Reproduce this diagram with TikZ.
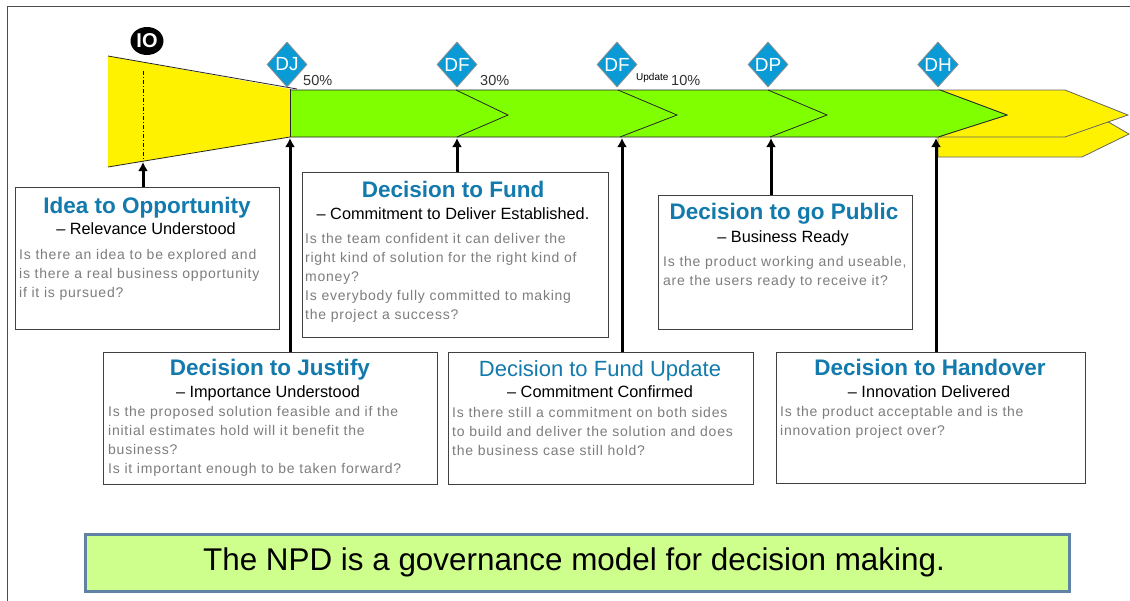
\documentclass[tikz,border=0pt]{standalone}
\usepackage{fontspec}
\setmainfont{Liberation Sans}
\newfontfamily\bodyfont{Liberation Sans}[LetterSpace=5.5]
\usetikzlibrary{shapes.geometric,arrows.meta}
\definecolor{titleblue}{RGB}{18,122,172}
\definecolor{dmblue}{RGB}{10,155,215}
\definecolor{barGreen}{RGB}{128,255,0}
\definecolor{bannerfill}{RGB}{206,255,140}
\definecolor{bannerline}{RGB}{96,130,165}
\definecolor{bodygrey}{RGB}{125,125,125}
\tikzset{
  box/.style={draw=black!75, line width=1pt, fill=white, anchor=north west, inner sep=0pt},
  ttl/.style={anchor=base, inner sep=0pt, text=titleblue, font=\fontsize{22.5}{24}\selectfont\bfseries},
  ttlreg/.style={anchor=base, inner sep=0pt, text=titleblue, font=\fontsize{22}{24}\selectfont},
  sub/.style={anchor=base, inner sep=0pt, text=black, font=\fontsize{16.3}{19}\selectfont},
  body/.style={anchor=base west, inner sep=0pt, align=left, text=bodygrey, font=\bodyfont\fontsize{14}{19}\selectfont},
  gate/.style={shape=diamond, draw=black!45, line width=0.8pt, fill=dmblue, inner sep=0pt,
    minimum width=40pt, minimum height=45pt, text=white, font=\fontsize{19}{20}\selectfont},
  pct/.style={anchor=base west, inner sep=0pt, text=black!80, font=\fontsize{14.5}{16}\selectfont},
  arr/.style={line width=3pt, -{Latex[length=9pt,width=10pt]}},
  barline/.style={draw=black!85, line width=0.8pt}
}
\begin{document}
\begin{tikzpicture}[x=1pt,y=-1pt]
\useasboundingbox (0,0) rectangle (1130,600);
\fill[white] (0,0) rectangle (1130,600);
% outer frame
\draw[black!70, line width=1pt] (7,610) -- (7,6) -- (1140,6);

% lower yellow arrow
\filldraw[fill=yellow, draw=black!60, line width=0.8pt]
  (938,137) -- (938,157) -- (1082,157) -- (1129,134) -- (1105,120) -- (1020,125) -- cycle;
% upper yellow arrow
\filldraw[fill=yellow, draw=black!60, line width=0.8pt]
  (940,90) -- (1065,90) -- (1128,115) -- (1065,137) -- (938,137) -- (1007,115) -- cycle;
% green bar
\filldraw[fill=barGreen, barline]
  (290,90) -- (940,90) -- (1007,115) -- (938,137) -- (290,137) -- cycle;
\draw[barline] (456,90) -- (508,115) -- (457,137);
\draw[barline] (618,90) -- (677,115) -- (620,137);
\draw[barline] (768,90) -- (827,115) -- (770,137);
% funnel
\fill[yellow] (108,56) -- (290,89) -- (290,137) -- (108,167) -- cycle;
\draw[black!85, line width=0.8pt] (108,56) -- (297,89);
\draw[black!85, line width=0.8pt] (108,167) -- (290,137);
\draw[black!85, line width=0.8pt] (290,89) -- (290,137);
\draw[black, line width=0.6pt, dash pattern=on 4pt off 2pt on 1pt off 2pt] (143,71) -- (143,161);

% IO marker
\node[ellipse, fill=black, minimum width=33pt, minimum height=28pt, inner sep=0pt,
  text=white, font=\fontsize{20}{20}\selectfont\bfseries] (io) at (147,41) {IO};

% gates
\node[gate] (gDJ) at (287,64.5) {DJ};
\node[gate] (gDF) at (457,64.5) {DF};
\node[gate] (gDFU) at (617,64.5) {DF};
\node[gate] (gDP) at (768,64.5) {DP};
\node[gate] (gDH) at (938,64.5) {DH};

\node[pct] (p50) at (303,85) {50\%};
\node[pct] (p30) at (480,85) {30\%};
\node[anchor=base west, inner sep=0pt, font=\fontsize{10}{11}\selectfont] (pup) at (636,80) {Update};
\node[pct] (p10) at (671,85) {10\%};

% attachment points on the bar
\coordinate (aIO) at (143,162);
\coordinate (aDJ) at (290,138);
\coordinate (aDF) at (457,138);
\coordinate (aDFU) at (622,138);
\coordinate (aDP) at (771,138);
\coordinate (aDH) at (936,138);

% boxes
\node[box, minimum width=264pt, minimum height=142pt] (bIO) at (15,187) {};
\node[box, minimum width=306pt, minimum height=165pt] (bDF) at (302,172) {};
\node[box, minimum width=254pt, minimum height=134pt] (bDP) at (658,195) {};
\node[box, minimum width=334pt, minimum height=132pt] (bDJ) at (103,352) {};
\node[box, minimum width=305pt, minimum height=132pt] (bDFU) at (448,352) {};
\node[box, minimum width=309pt, minimum height=131pt] (bDH) at (776,352) {};

% arrows
\draw[arr] (aIO |- bIO.north) -- (aIO);
\draw[arr] (aDJ |- bDJ.north) -- (aDJ);
\draw[arr] (aDF |- bDF.north) -- (aDF);
\draw[arr] (aDFU |- bDFU.north) -- (aDFU);
\draw[arr] (aDP |- bDP.north) -- (aDP);
\draw[arr] (aDH |- bDH.north) -- (aDH);

% Idea to Opportunity (body anchored at the baseline of its last line)
\node[ttl] (tIO) at (147,213) {Idea to Opportunity};
\node[sub] (sIO) at (146,234) {-- Relevance Understood};
\node[body] (qIO) at (19,297) {Is there an idea to be explored and\\is there a real business opportunity\\if it is pursued?};

% Decision to Fund
\node[ttl] (tDF) at (453,197) {Decision to Fund};
\node[sub] (sDF) at (453,219) {-- Commitment to Deliver Established.};
\node[body] (qDF) at (305,319) {Is the team confident it can deliver the\\right kind of solution for the right kind of\\money?\\Is everybody fully committed to making\\the project a success?};

% Decision to go Public
\node[ttl] (tDP) at (784,219) {Decision to go Public};
\node[sub] (sDP) at (783,242) {-- Business Ready};
\node[body] (qDP) at (663,285) {Is the product working and useable,\\are the users ready to receive it?};

% Decision to Justify
\node[ttl] (tDJ) at (270,375) {Decision to Justify};
\node[sub] (sDJ) at (268,397) {-- Importance Understood};
\node[body] (qDJ) at (108,473) {Is the proposed solution feasible and if the\\initial estimates hold will it benefit the\\business?\\Is it important enough to be taken forward?};

% Decision to Fund Update
\node[ttlreg] (tDFU) at (600,376) {Decision to Fund Update};
\node[sub] (sDFU) at (600,397) {-- Commitment Confirmed};
\node[body] (qDFU) at (452,455) {Is there still a commitment on both sides\\to build and deliver the solution and does\\the business case still hold?};

% Decision to Handover
\node[ttl] (tDH) at (930,375) {Decision to Handover};
\node[sub] (sDH) at (929,397) {-- Innovation Delivered};
\node[body] (qDH) at (780,435) {Is the product acceptable and is the\\innovation project over?};

% banner
\node[draw=bannerline, line width=3pt, fill=bannerfill, anchor=north west, inner sep=0pt,
  minimum width=984pt, minimum height=57pt] (banner) at (84,533) {};
\node[anchor=base, inner sep=0pt, font=\fontsize{31.4}{34}\selectfont] (bannertext) at (574,570)
  {The NPD is a governance model for decision making.};
\end{tikzpicture}
\end{document}
